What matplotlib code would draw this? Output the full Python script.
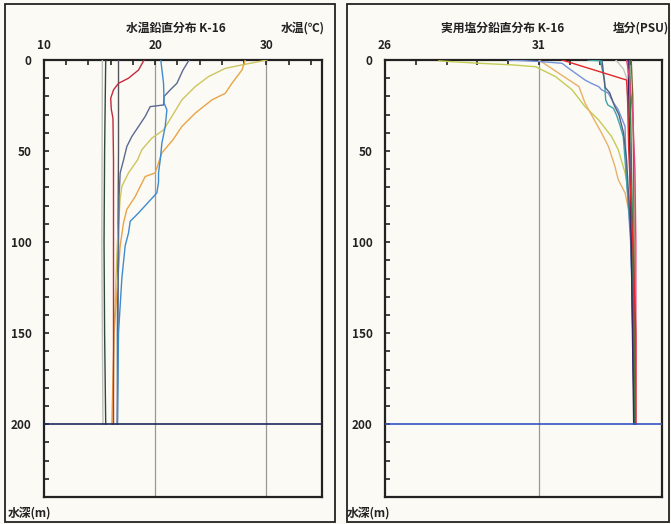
import matplotlib
matplotlib.use("Agg")
import matplotlib.pyplot as plt
from matplotlib.patches import Rectangle

plt.rcParams['font.family'] = ['Noto Sans CJK JP', 'DejaVu Sans']
plt.rcParams['font.weight'] = 'bold'

# ---------------- Temperature profiles (left) ----------------
t_lgray_d = [0, 100, 200]
t_lgray = [15.25, 15.2, 15.3]
t_dgreen_d = [0, 50, 100, 150, 200]
t_dgreen = [15.55, 15.45, 15.4, 15.45, 15.55]
t_dgray_d = [0, 50, 100, 150, 200]
t_dgray = [16.7, 16.7, 16.65, 16.6, 16.6]
t_red_d = [0, 5.5, 10, 12.8, 16.4, 21, 27, 32, 55, 100, 150, 200]
t_red = [19.0, 18.5, 17.6, 16.7, 16.25, 16.0, 16.05, 16.2, 16.25, 16.25, 16.25, 16.25]
t_blue_d = [0, 12.8, 23.7, 27.4, 36.5, 45.7, 55, 62, 67, 73, 84, 88.6, 95, 102, 120, 150, 200]
t_blue = [20.5, 20.75, 20.8, 21.05, 20.9, 20.6, 20.45, 20.3, 20.3, 20.15, 18.5, 17.75, 17.6, 17.3, 17.0, 16.7, 16.6]
t_slate_d = [0, 5.5, 12.8, 16.4, 20, 24.7, 25.6, 31, 36.5, 42, 47.5, 55, 62, 75, 100, 200]
t_slate = [23.05, 22.5, 21.95, 21.35, 20.8, 20.75, 19.55, 19.1, 18.5, 17.9, 17.45, 17.15, 16.85, 16.75, 16.7, 16.6]
t_khaki_d = [0, 2.7, 4.6, 9.1, 14.6, 21.9, 31, 38.4, 42.9, 49.3, 55, 62, 69.4, 76, 100, 150, 200]
t_khaki = [30.05, 27.8, 26.3, 24.8, 23.6, 22.4, 21.5, 20.75, 19.7, 18.8, 18.4, 17.6, 17.0, 16.85, 16.6, 16.3, 16.2]
t_orange_d = [0, 5.5, 12.8, 18.3, 21.9, 29.2, 36.5, 43.8, 51, 62, 64, 75, 82, 89.5, 102, 150, 200]
t_orange = [28.1, 27.8, 26.9, 26.3, 25.1, 23.6, 22.4, 21.6, 20.6, 20.0, 19.1, 18.2, 17.45, 17.15, 16.85, 16.3, 16.1]

# ---------------- Salinity profiles (right) ----------------
s_khaki_d = [0.5, 1.8, 2.7, 3.7, 4.6, 9.1, 16.4, 25.6, 32.9, 42, 49.3, 62, 71, 85, 100, 150, 200]
s_khaki = [27.75, 29.06, 30.14, 30.9, 31.0, 31.54, 32.08, 32.5, 32.94, 33.36, 33.58, 33.8, 33.9, 33.98, 34.02, 34.08, 34.1]
s_orange_d = [0, 7.3, 14.6, 23.7, 32.9, 40.2, 47.5, 58.4, 65.8, 73, 85, 100, 150, 200]
s_orange = [31.0, 31.65, 32.3, 32.5, 32.8, 33.04, 33.26, 33.47, 33.58, 33.8, 33.95, 34.0, 34.08, 34.1]
s_blue_d = [0, 0.8, 1.8, 4.6, 11, 12.8, 14.6, 16.4, 18.3, 22.8, 27.4, 36.5, 49, 65, 100, 150, 200]
s_blue = [30.0, 31.0, 31.75, 31.97, 32.5, 32.7, 32.94, 33.04, 33.26, 33.4, 33.58, 33.8, 33.82, 33.85, 33.98, 34.07, 34.1]
s_teal_d = [0, 0.5, 11, 21.9, 24.7, 26.5, 30.1, 35.6, 42, 55, 100, 200]
s_teal = [32.6, 33.0, 33.13, 33.17, 33.24, 33.42, 33.52, 33.63, 33.74, 33.8, 34.0, 34.1]
s_slate_d = [0, 15, 18, 25, 30, 40, 55, 100, 200]
s_slate = [33.05, 33.15, 33.3, 33.45, 33.6, 33.75, 33.85, 34.0, 34.1]
s_red_d = [0, 11, 20, 50, 100, 150, 200]
s_red = [31.75, 33.85, 33.88, 33.92, 34.05, 34.15, 34.15]
s_magenta_d = [0, 11, 30, 60, 100, 200]
s_magenta = [33.85, 33.95, 34.05, 34.12, 34.15, 34.15]
s_green_d = [0, 50, 100, 200]
s_green = [33.95, 34.0, 34.05, 34.1]
s_lgray_d = [0, 5, 10, 30, 60, 200]
s_lgray = [33.5, 33.75, 33.85, 33.9, 34.0, 34.1]
s_navy_d = [0, 100, 200]
s_navy = [33.9, 34.0, 34.08]
s_brown_d = [0, 20, 60, 200]
s_brown = [34.0, 34.05, 34.08, 34.12]

bottom_depth = 200

W, H = 671, 524
bg = '#fbfaf4'
fig = plt.figure(figsize=(W / 100, H / 100), dpi=100, facecolor=bg)


def fx(x):
    return x / W


def fy(y):
    return 1 - y / H


# outer frames
for x0, x1 in [(5, 335), (347, 669)]:
    fig.patches.append(Rectangle((fx(x0), fy(522)), fx(x1) - fx(x0), fy(4) - fy(522),
                                 transform=fig.transFigure, fill=False,
                                 edgecolor='#222222', linewidth=1.3))

axL = fig.add_axes([fx(44), fy(497), fx(322) - fx(44), fy(60) - fy(497)])
axR = fig.add_axes([fx(385), fy(497), fx(662) - fx(385), fy(60) - fy(497)])


def style(ax, xlim, major, minor, grid):
    ax.set_facecolor(bg)
    ax.set_xlim(*xlim)
    ax.set_ylim(240, 0)
    ax.xaxis.tick_top()
    ax.set_xticks(major)
    ax.set_xticks(minor, minor=True)
    ax.set_yticks([0, 50, 100, 150, 200])
    ax.set_yticks(list(range(0, 241, 10)), minor=True)
    ax.tick_params(axis='both', which='both', direction='in', length=3.5, width=1.2,
                   top=True, bottom=False, left=True, right=False, colors='#222222')
    ax.tick_params(axis='x', which='major', pad=6, labelsize=8.5)
    ax.tick_params(axis='y', which='major', pad=9, labelsize=8.5)
    for lab in ax.get_xticklabels() + ax.get_yticklabels():
        lab.set_fontweight('bold')
    for s in ax.spines.values():
        s.set_linewidth(1.6)
        s.set_color('#222222')
    for g in grid:
        ax.axvline(g, color='#999999', lw=0.9, zorder=1)


style(axL, (10, 35), [10, 20, 30], [x for x in range(10, 36, 2)], [20, 30])
style(axR, (26, 35), [26, 31], list(range(26, 36)), [31])

lw = 1.0
for d, v, c in [
    (t_lgray_d, t_lgray, '#bdbdbd'),
    (t_dgreen_d, t_dgreen, '#2d4a3c'),
    (t_dgray_d, t_dgray, '#55565f'),
    (t_khaki_d, t_khaki, '#cfc55e'),
    (t_orange_d, t_orange, '#eaa446'),
    (t_slate_d, t_slate, '#5b6a92'),
    (t_blue_d, t_blue, '#3f8bcf'),
    (t_red_d, t_red, '#c42a3e'),
]:
    axL.plot(v, d, color=c, lw=lw, zorder=3)
axL.axhline(bottom_depth, color='#1d2b5c', lw=1.2, zorder=4)

for d, v, c in [
    (s_lgray_d, s_lgray, '#c4c4c4'),
    (s_khaki_d, s_khaki, '#c4cc55'),
    (s_orange_d, s_orange, '#e9b068'),
    (s_blue_d, s_blue, '#7592da'),
    (s_teal_d, s_teal, '#3fa3ab'),
    (s_slate_d, s_slate, '#52617f'),
    (s_brown_d, s_brown, '#7f6233'),
    (s_green_d, s_green, '#2f8142'),
    (s_navy_d, s_navy, '#3a2468'),
    (s_magenta_d, s_magenta, '#e2417c'),
    (s_red_d, s_red, '#e2262a'),
]:
    axR.plot(v, d, color=c, lw=lw, zorder=3)
axR.axhline(bottom_depth, color='#3453c4', lw=1.2, zorder=4)

# texts
tk = dict(fontsize=8.5, fontweight='bold', color='#222222', va='center')
fig.text(fx(176), fy(28), '水温鉛直分布 K-16', ha='center', **tk)
fig.text(fx(303), fy(28), '水温(℃)', ha='center', **tk)
fig.text(fx(503), fy(28), '実用塩分鉛直分布 K-16', ha='center', **tk)
fig.text(fx(641), fy(28), '塩分(PSU)', ha='center', **tk)
fig.text(fx(8), fy(513), '水深(m)', ha='left', **tk)
fig.text(fx(347), fy(513), '水深(m)', ha='left', **tk)

fig.savefig('out.png', dpi=100, facecolor=bg)
